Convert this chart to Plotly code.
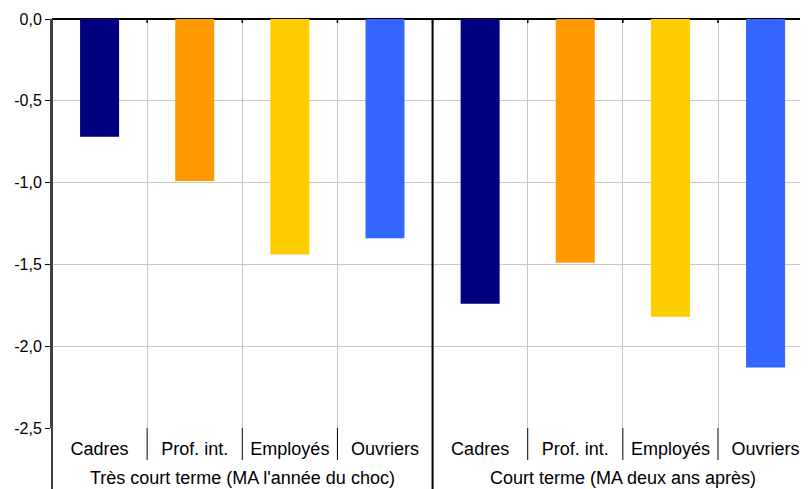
import plotly.graph_objects as go

# ---- data ----
groups = ["Très court terme (MA l'année du choc)", "Court terme (MA deux ans après)"]
categories = ["Cadres", "Prof. int.", "Employés", "Ouvriers"]
values_tres_court = [-0.72, -0.99, -1.44, -1.34]
values_court = [-1.74, -1.49, -1.82, -2.13]
category_colors = ["#000080", "#FF9900", "#FFCC00", "#3366FF"]
y_tick_vals = [0, -0.5, -1.0, -1.5, -2.0, -2.5]
y_tick_text = ["0,0", "-0,5", "-1,0", "-1,5", "-2,0", "-2,5"]

# ---- build bar list ----
x_keys, x_text, y_vals, bar_colors = [], [], [], []
for gi, (g, vals) in enumerate(zip(groups, [values_tres_court, values_court])):
    for c, v, col in zip(categories, vals, category_colors):
        x_keys.append(f"{c} | {gi}")
        x_text.append(c)
        y_vals.append(v)
        bar_colors.append(col)

n = len(y_vals)
ncat = len(categories)
x_range = [-0.5, n - 0.554]

# page body has an 8px margin -> figure occupies 800x481 of the 808x489 window
W, H = 800, 481
M_L, M_R, M_T, M_B = 44, 0, 11, 61
plot_h = H - M_T - M_B

fig = go.Figure(go.Bar(
    x=x_keys, y=y_vals,
    marker=dict(color=bar_colors, line=dict(width=0)),
    hoverinfo="skip",
))

def xfrac(b):
    return (b - x_range[0]) / (x_range[1] - x_range[0])

shapes = []
for i in range(n + 1):
    b = i - 0.5
    xf = xfrac(b)
    if xf > 1.001:
        continue
    is_group = (i % ncat == 0)
    shapes.append(dict(type="line", xref="paper", yref="paper", x0=xf, x1=xf,
                       y0=1, y1=1 - 4 / plot_h, line=dict(color="#000000", width=1.5)))
    if is_group:
        col = "#404040" if i == 0 else "#000000"
        shapes.append(dict(type="line", xref="paper", yref="paper", x0=xf, x1=xf,
                           y0=1, y1=-(M_B + 10) / plot_h, line=dict(color=col, width=2)))
    else:
        shapes.append(dict(type="line", xref="paper", yref="paper", x0=xf, x1=xf,
                           y0=0, y1=-32 / plot_h, line=dict(color="#000000", width=1)))

annotations = []
for gi, g in enumerate(groups):
    center = gi * ncat + (ncat - 1) / 2
    annotations.append(dict(text=g, xref="paper", yref="paper",
                            x=xfrac(center), y=-50 / plot_h,
                            xanchor="center", yanchor="middle", showarrow=False,
                            font=dict(size=18, color="#000000")))

fig.update_layout(
    width=W, height=H,
    margin=dict(l=M_L, r=M_R, t=M_T, b=M_B),
    paper_bgcolor="white", plot_bgcolor="white",
    bargap=0.59,
    showlegend=False,
    font=dict(family="Liberation Sans, Arial, sans-serif", color="#000000"),
    shapes=shapes,
    annotations=annotations,
    xaxis=dict(
        type="category",
        range=x_range,
        tickmode="array", tickvals=x_keys, ticktext=x_text,
        tickson="boundaries",
        showgrid=True, gridcolor="#c8c8c8", gridwidth=1,
        showline=False, ticks="", ticklabelstandoff=8,
        tickfont=dict(size=18),
    ),
    yaxis=dict(
        range=[-2.5, 0],
        tickvals=y_tick_vals, ticktext=y_tick_text,
        tickfont=dict(size=16),
        showgrid=True, gridcolor="#c8c8c8", gridwidth=1,
        zeroline=True, zerolinecolor="#000000", zerolinewidth=1.5,
        showline=True, linecolor="#404040", linewidth=2,
        ticks="outside", ticklen=5, tickcolor="#000000",
    ),
)

fig.write_html("out.html")
